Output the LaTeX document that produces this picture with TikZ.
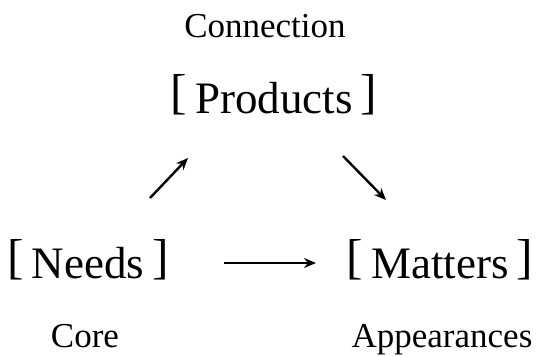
\documentclass[tikz,border=0pt]{standalone}
\usepackage{fontspec}
\setmainfont{Liberation Serif}
\usetikzlibrary{positioning, arrows.meta}

\newcommand{\brk}[1]{\raisebox{4.5pt}{\scalebox{1.1}[1.09]{#1}}}
\newcommand{\bracketed}[1]{\brk{[}\hspace{8pt}#1\hspace{8pt}\brk{]}}

\begin{document}
\begin{tikzpicture}[
    x=1pt, y=-1pt,
    big/.style={font=\fontsize{45}{54}\selectfont, inner sep=0pt, anchor=base},
    small/.style={font=\fontsize{35}{42}\selectfont, inner sep=0pt, anchor=base},
    arr/.style={-{Stealth[length=12pt, width=10pt]}, line width=2.4pt}
]
    \useasboundingbox (0,0) rectangle (536,356);

    % Place the nodes
    \node[big] (products) at (274,113) {\bracketed{Products}};
    \node[big] (needs) at (88,278) {\bracketed{Needs}};
    \node[big] (matters) at (440,278) {\bracketed{Matters}};
    \node[small] (connection) at (265,37) {Connection};
    \node[small] (core) at (85,347) {Core};
    \node[small] (appearances) at (442,347) {Appearances};

    % arrow ends
    \coordinate (a1) at (150,198);
    \coordinate (a2) at (188,158);
    \coordinate (b1) at (343,156);
    \coordinate (b2) at (386,200);
    \coordinate (c1) at (224,263);
    \coordinate (c2) at (316,263);

    % Draw the edges
    \draw [arr] (a1) -- (a2);
    \draw [arr] (b1) -- (b2);
    \draw [arr] (c1) -- (c2);
\end{tikzpicture}
\end{document}
